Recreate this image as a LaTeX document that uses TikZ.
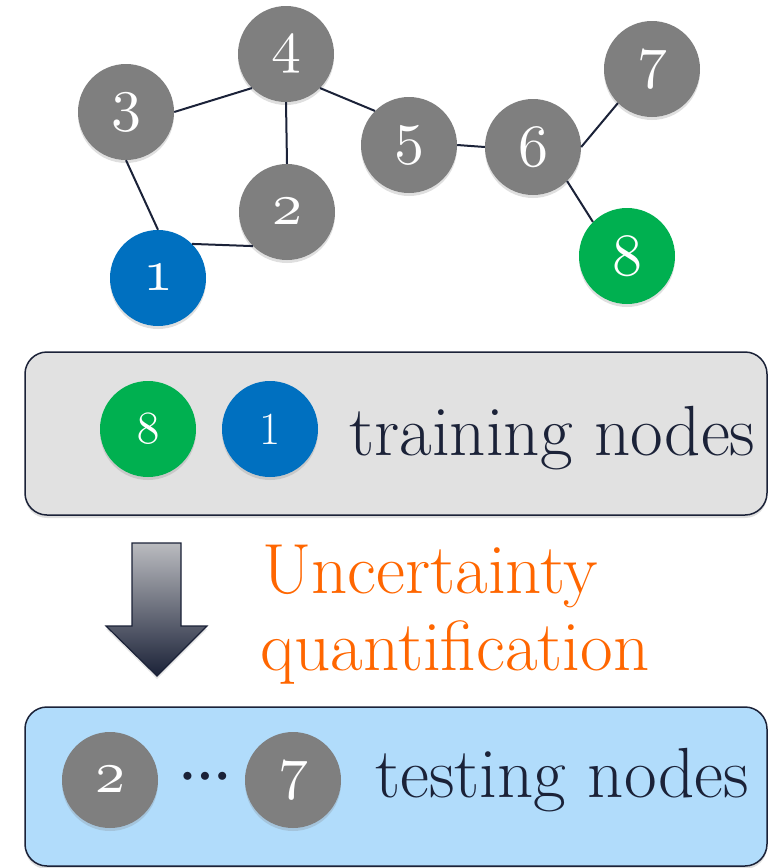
\documentclass[tikz,border=0pt]{standalone}
\usepackage{tikz}
\usetikzlibrary{shadows}

% old-style digits at any size
\DeclareFontShape{OML}{cmm}{m}{it}{<-> cmmi10}{\skewchar\font=127}
\newcommand{\onum}[1]{{\usefont{OML}{cmm}{m}{it}#1}}

\definecolor{navy}{HTML}{1B2238}
\definecolor{nodegray}{HTML}{7F7F7F}
\definecolor{nodeblue}{HTML}{0070C0}
\definecolor{nodegreen}{HTML}{00B050}
\definecolor{boxgray}{HTML}{E1E1E1}
\definecolor{boxblue}{HTML}{B1DCFB}
\definecolor{uqorange}{HTML}{FF6600}
\definecolor{arrowtop}{HTML}{BABBBF}

\begin{document}
\begin{tikzpicture}[
    x=1pt, y=-1pt,
    vertex/.style={circle, fill=nodegray, text=white, minimum size=96pt, inner sep=0pt,
        font=\fontsize{60}{60}\selectfont,
        drop shadow={opacity=0.25, shadow xshift=0pt, shadow yshift=-3pt}},
    train/.style={vertex, fill=nodegreen},
    labeled/.style={vertex, fill=nodeblue},
    link/.style={draw=navy, line width=2pt},
    panel/.style={rounded corners=22pt, draw=navy, line width=1.5pt,
        minimum width=742pt, inner sep=0pt,
        drop shadow={opacity=0.25, shadow xshift=0pt, shadow yshift=-3pt}},
    caption/.style={anchor=base west, inner sep=0pt, text=navy,
        font=\fontsize{71}{71}\selectfont}
]
\useasboundingbox (0,0) rectangle (769,868);

% graph
\node[labeled] (n1) at (158,278) {\onum{1}};
\node[vertex] (n2) at (287,212) {\onum{2}};
\node[vertex] (n3) at (126,112) {\onum{3}};
\node[vertex] (n4) at (286,54) {\onum{4}};
\node[vertex] (n5) at (409,145) {\onum{5}};
\node[vertex] (n6) at (533,147) {\onum{6}};
\node[vertex] (n7) at (652,69) {\onum{7}};
\node[train] (n8) at (627,256) {\onum{8}};

\draw[link] (n3.east) -- (n4.225);
\draw[link] (n3.south) -- (n1.north);
\draw[link] (n4.south) -- (n2.north);
\draw[link] (n4.-45) -- (n5.135);
\draw[link] (n1.45) -- (n2.225);
\draw[link] (n5.east) -- (n6.west);
\draw[link] (n6.east) -- (n7.225);
\draw[link] (n6.-45) -- (n8.135);

% training nodes
\node[panel, fill=boxgray, minimum height=163pt] (trainbox) at (396,433.5) {};
\node[train, font=\fontsize{46}{46}\selectfont] (t8) at (148,429) {\onum{8}};
\node[labeled, font=\fontsize{46}{46}\selectfont] (t1) at (270,429) {1};
\node[caption] (traintext) at (349,455) {training nodes};

% arrow
\path[top color=arrowtop, bottom color=navy, draw=navy, line width=1.2pt,
    drop shadow={opacity=0.2, shadow xshift=0pt, shadow yshift=-3pt}]
    (132,543) -- (181,543) -- (181,626) -- (207,626) -- (157,676)
    -- (106,626) -- (132,626) -- cycle;
\node[caption, text=uqorange] (uq1) at (262,593) {Uncertainty};
\node[caption, text=uqorange] (uq2) at (260,670) {quantification};

% testing nodes
\node[panel, fill=boxblue, minimum height=159pt] (testbox) at (396,786.5) {};
\node[vertex] (s2) at (110,780) {\onum{2}};
\node[text=navy, inner sep=0pt, font=\fontsize{20.74}{20.74}\selectfont] (dots) at (205,777)
    {$\mathord{\bullet}\kern7pt\mathord{\bullet}\kern7pt\mathord{\bullet}$};
\node[vertex] (s7) at (293,780) {\onum{7}};
\node[caption] (testtext) at (375,797) {testing nodes};
\end{tikzpicture}
\end{document}
